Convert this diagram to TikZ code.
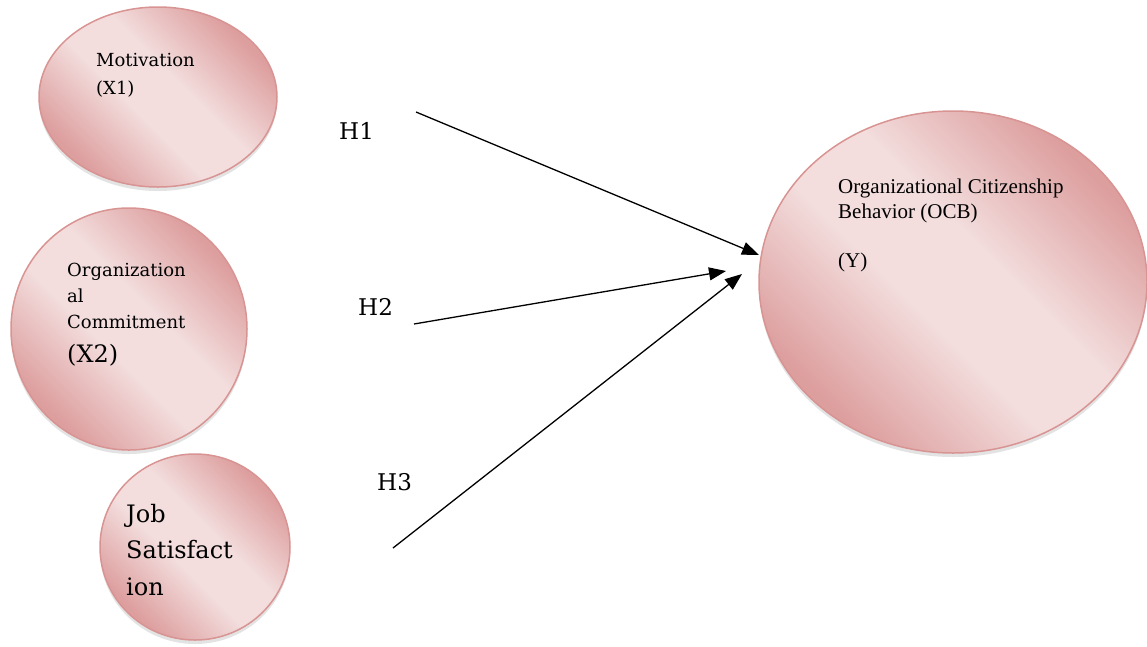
\documentclass[tikz,border=0pt]{standalone}
\usepackage{fontspec}
\setmainfont{DejaVu Serif}
\newfontfamily\timesfont{Liberation Serif}
\usetikzlibrary{shapes.geometric,arrows.meta,shadows}
\definecolor{pdark}{RGB}{221,158,158}
\definecolor{plight}{RGB}{243,221,221}
\definecolor{pborder}{RGB}{216,148,147}
\pgfdeclareverticalshading{pinkdiag}{100bp}{color(0bp)=(pdark); color(26bp)=(pdark); color(44bp)=(plight); color(56bp)=(plight); color(74bp)=(pdark); color(100bp)=(pdark)}
\tikzset{
  bubble/.style={ellipse, draw=pborder, line width=1.5pt, inner sep=0pt,
    shading=pinkdiag, shading angle=-45,
    drop shadow={shadow xshift=0pt, shadow yshift=-4pt, opacity=0.18, fill=black!60}},
  txt/.style={anchor=base west, inner sep=0pt, align=left, text=black},
  small/.style={font=\fontsize{18}{28}\selectfont},
  big/.style={font=\fontsize{24}{36.5}\selectfont},
  hlab/.style={anchor=base west, inner sep=0pt, font=\fontsize{23}{28}\selectfont},
  link/.style={line width=1.3pt, -{Triangle[length=17pt,width=13pt]}}
}
\begin{document}
\begin{tikzpicture}[x=1pt,y=-1pt]
\useasboundingbox (0,0) rectangle (1147,646);
% ellipses
\node[bubble, minimum width=238pt, minimum height=180pt] (mot) at (158,97) {};
\node[bubble, minimum width=236pt, minimum height=242pt] (com) at (129,329) {};
\node[bubble, minimum width=190pt, minimum height=186pt] (job) at (195,547) {};
\node[bubble, minimum width=388pt, minimum height=342pt] (ocb) at (953,282) {};
% texts (anchored at the baseline of the last line)
\node[txt, small] (tmot) at (96,94) {Motivation\\(X1)};
\node[txt, font=\fontsize{18}{26}\selectfont] (tcom) at (67,328) {Organization\\al\\Commitment};
\node[txt, big] (tx2) at (67,362) {(X2)};
\node[txt, big] (tjob) at (126,595) {Job\\Satisfact\\ion};
\node[txt, font=\timesfont\fontsize{21}{25.5}\selectfont] (tocb) at (838,267)
  {Organizational Citizenship\\Behavior (OCB)\\[23pt](Y)};
% hypothesis labels
\node[hlab] (h1) at (339,139) {H1};
\node[hlab] (h2) at (358,315) {H2};
\node[hlab] (h3) at (377,490) {H3};
% connectors
\coordinate (s1) at (416,112);
\coordinate (e1) at (759,255);
\coordinate (s2) at (414,324);
\coordinate (e2) at (726,271);
\coordinate (s3) at (393,548);
\coordinate (e3) at (742,274);
\draw[link] (s1) -- (e1);
\draw[link] (s2) -- (e2);
\draw[link] (s3) -- (e3);
\end{tikzpicture}
\end{document}
